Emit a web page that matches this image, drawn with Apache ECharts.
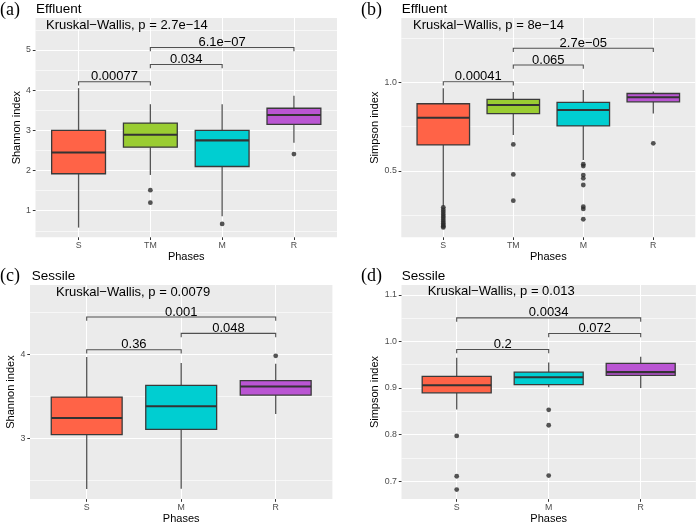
<!DOCTYPE html>
<html><head><meta charset="utf-8">
<script src="https://cdn.jsdelivr.net/npm/echarts@6/dist/echarts.min.js"></script>
<style>html,body{margin:0;padding:0;background:#fff}#c{width:696px;height:525px}</style>
</head><body><div id="c"></div>
<script>
// ---------- DATA ----------
const phasesEffluent = ['S', 'TM', 'M', 'R'];
const phasesSessile = ['S', 'M', 'R'];
const phaseColors = { S: '#FF6347', TM: '#9ACD32', M: '#00CED1', R: '#BA55D3' };

// box stats: [lower whisker, Q1, median, Q3, upper whisker]
const shannonEffluentBoxes = [
  [0.58, 1.92, 2.45, 3.00, 4.05],
  [1.89, 2.58, 2.89, 3.18, 3.65],
  [0.86, 2.10, 2.75, 3.00, 3.65],
  [2.69, 3.15, 3.38, 3.55, 3.86]
];
const shannonEffluentOutliers = [[], [1.51, 1.20], [0.67], [2.41]];
const shannonEffluentBrackets = [[1, 2, 4.21], [2, 3, 4.64], [2, 4, 5.06]];
const shannonEffluentBracketLabels = ['0.00077', '0.034', '6.1e\u221207'];
const shannonEffluentYTicks = [1, 2, 3, 4, 5];

const simpsonEffluentBoxes = [
  [0.300, 0.647, 0.800, 0.879, 0.966],
  [0.703, 0.824, 0.872, 0.904, 0.945],
  [0.562, 0.754, 0.844, 0.887, 0.957],
  [0.824, 0.890, 0.916, 0.937, 0.948]
];
const simpsonEffluentOutliers = [
  [0.295, 0.282, 0.270, 0.258, 0.247, 0.236, 0.225, 0.214, 0.204, 0.195, 0.188, 0.182],
  [0.650, 0.481, 0.333],
  [0.538, 0.528, 0.477, 0.459, 0.421, 0.299, 0.286, 0.228],
  [0.656]
];
const simpsonEffluentBrackets = [[1, 2, 1.0035], [2, 3, 1.0976], [2, 4, 1.192]];
const simpsonEffluentBracketLabels = ['0.00041', '0.065', '2.7e\u221205'];
const simpsonEffluentYTicks = [0.5, 1.0];

const shannonSessileBoxes = [
  [2.400, 3.047, 3.245, 3.495, 3.970],
  [2.405, 3.110, 3.385, 3.635, 3.900],
  [3.292, 3.518, 3.620, 3.690, 3.890]
];
const shannonSessileOutliers = [[], [], [3.985]];
const shannonSessileBrackets = [[1, 2, 4.058], [2, 3, 4.253], [1, 3, 4.448]];
const shannonSessileBracketLabels = ['0.36', '0.048', '0.001'];
const shannonSessileYTicks = [3, 4];

const simpsonSessileBoxes = [
  [0.854, 0.8895, 0.906, 0.925, 0.965],
  [0.9015, 0.907, 0.923, 0.934, 0.9545],
  [0.900, 0.927, 0.934, 0.953, 0.967]
];
const simpsonSessileOutliers = [[0.797, 0.7105, 0.682], [0.853, 0.820, 0.712], []];
const simpsonSessileBrackets = [[1, 2, 0.9825], [2, 3, 1.0168], [1, 3, 1.0505]];
const simpsonSessileBracketLabels = ['0.2', '0.072', '0.0034'];
const simpsonSessileYTicks = [0.7, 0.8, 0.9, 1.0, 1.1];

const kruskalLabels = [
  'Kruskal\u2212Wallis, p = 2.7e\u221214',
  'Kruskal\u2212Wallis, p = 8e\u221214',
  'Kruskal\u2212Wallis, p = 0.0079',
  'Kruskal\u2212Wallis, p = 0.013'
];
const panelTags = ['(a)', '(b)', '(c)', '(d)'];
const panelTitles = ['Effluent', 'Effluent', 'Sessile', 'Sessile'];
const yAxisTitles = ['Shannon index', 'Simpson index', 'Shannon index', 'Simpson index'];
const xAxisTitle = 'Phases';

// ---------- LAYOUT / STYLE ----------
const FONT = 'Liberation Sans, Arial, sans-serif';
const panels = [
  { cats: phasesEffluent, boxes: shannonEffluentBoxes, outliers: shannonEffluentOutliers,
    brackets: shannonEffluentBrackets, bLabels: shannonEffluentBracketLabels, yTicks: shannonEffluentYTicks,
    grid: { left: 35.5, top: 18, width: 301.5, height: 219.3 }, yMin: 0.338, yMax: 5.796, yInt: 1, yDec: 0,
    yNameGap: 11.5, xNameGap: 12,
    tagPos: [0, 1], titlePos: [36, 2.5], kwPos: [46, 19.2] },
  { cats: phasesEffluent, boxes: simpsonEffluentBoxes, outliers: simpsonEffluentOutliers,
    brackets: simpsonEffluentBrackets, bLabels: simpsonEffluentBracketLabels, yTicks: simpsonEffluentYTicks,
    grid: { left: 401.3, top: 18, width: 294, height: 219.3 }, yMin: 0.1263, yMax: 1.3625, yInt: 0.5, yDec: 1,
    yNameGap: 19.2, xNameGap: 12,
    tagPos: [361, 1], titlePos: [401.7, 2.5], kwPos: [413, 19.2] },
  { cats: phasesSessile, boxes: shannonSessileBoxes, outliers: shannonSessileOutliers,
    brackets: shannonSessileBrackets, bLabels: shannonSessileBracketLabels, yTicks: shannonSessileYTicks,
    grid: { left: 30, top: 285, width: 302.4, height: 218.3 }, yMin: 2.281, yMax: 4.828, yInt: 1, yDec: 0,
    yNameGap: 11, xNameGap: 11,
    tagPos: [0, 267], titlePos: [31.7, 269.2], kwPos: [56, 285.8] },
  { cats: phasesSessile, boxes: simpsonSessileBoxes, outliers: simpsonSessileOutliers,
    brackets: simpsonSessileBrackets, bLabels: simpsonSessileBracketLabels, yTicks: simpsonSessileYTicks,
    grid: { left: 401.5, top: 285, width: 294.4, height: 218.3 }, yMin: 0.6615, yMax: 1.121, yInt: 0.1, yDec: 1,
    yNameGap: 19.4, xNameGap: 11,
    tagPos: [361, 267], titlePos: [401.7, 269.2], kwPos: [427.7, 284.8] }
];

const grids = [], xAxes = [], yAxes = [], series = [], titles = [];

function renderBox(params, api) {
  const x = api.value(0);
  const lo = api.coord([x, api.value(1)]);
  const q1 = api.coord([x, api.value(2)]);
  const md = api.coord([x, api.value(3)]);
  const q3 = api.coord([x, api.value(4)]);
  const hi = api.coord([x, api.value(5)]);
  const w = api.size([0.75, 0])[0];
  const cx = lo[0];
  const stroke = '#3a3a3a';
  return { type: 'group', children: [
    { type: 'line', shape: { x1: cx, y1: q3[1], x2: cx, y2: hi[1] }, style: { stroke: '#555', lineWidth: 1.3 } },
    { type: 'line', shape: { x1: cx, y1: lo[1], x2: cx, y2: q1[1] }, style: { stroke: '#555', lineWidth: 1.3 } },
    { type: 'rect', shape: { x: cx - w / 2, y: q3[1], width: w, height: q1[1] - q3[1] },
      style: { fill: api.visual('color'), stroke: stroke, lineWidth: 1.3 } },
    { type: 'line', shape: { x1: cx - w / 2, y1: md[1], x2: cx + w / 2, y2: md[1] }, style: { stroke: '#333', lineWidth: 2.1 } }
  ]};
}

panels.forEach((p, i) => {
  const n = p.cats.length;
  grids.push(Object.assign({ show: true, backgroundColor: '#EBEBEB', borderWidth: 0, containLabel: false }, p.grid));
  const catIdx = p.cats.map((c, k) => k + 1);
  xAxes.push({
    type: 'value', gridIndex: i, min: 0.4, max: n + 0.6, minInterval: 1, maxInterval: 1,
    name: xAxisTitle, nameLocation: 'middle', nameGap: p.xNameGap,
    nameTextStyle: { fontFamily: FONT, fontSize: 11, color: '#000' },
    axisLine: { show: false },
    axisTick: { show: true, length: 2.7, lineStyle: { color: '#333', width: 1 }, customValues: catIdx },
    axisLabel: { customValues: catIdx, margin: 4, fontFamily: FONT, fontSize: 8.8, color: '#4D4D4D',
      formatter: v => p.cats[Math.round(v) - 1] || '' },
    splitLine: { show: true, lineStyle: { color: '#fff', width: 1.1 } },
    minorSplitLine: { show: false }
  });
  yAxes.push({
    type: 'value', gridIndex: i, min: p.yMin, max: p.yMax, minInterval: p.yInt, maxInterval: p.yInt,
    name: yAxisTitles[i], nameLocation: 'middle', nameGap: p.yNameGap,
    nameTextStyle: { fontFamily: FONT, fontSize: 11, color: '#000' },
    axisLine: { show: false },
    axisTick: { show: true, length: 2.7, lineStyle: { color: '#333', width: 1 }, customValues: p.yTicks },
    axisLabel: { customValues: p.yTicks, margin: 4.5, fontFamily: FONT, fontSize: 8.8, color: '#4D4D4D',
      formatter: v => Number(v).toFixed(p.yDec) },
    splitLine: { show: true, lineStyle: { color: '#fff', width: 1.1 } },
    minorTick: { show: false, splitNumber: 2 },
    minorSplitLine: { show: true, lineStyle: { color: '#fff', width: 0.6 } }
  });
  // boxes
  series.push({
    type: 'custom', xAxisIndex: i, yAxisIndex: i, renderItem: renderBox, silent: true, z: 3,
    data: p.boxes.map((b, k) => ({ value: [k + 1].concat(b), itemStyle: { color: phaseColors[p.cats[k]] } }))
  });
  // outliers
  const pts = [];
  p.outliers.forEach((arr, k) => arr.forEach(v => pts.push([k + 1, v])));
  series.push({
    type: 'scatter', xAxisIndex: i, yAxisIndex: i, data: pts, symbolSize: 4.8, z: 4, silent: true,
    itemStyle: { color: '#2b2b2b' }
  });
  // brackets
  series.push({
    type: 'custom', xAxisIndex: i, yAxisIndex: i, silent: true, z: 5, clip: false,
    data: p.brackets,
    renderItem: (params, api) => {
      const a = api.coord([api.value(0), api.value(2)]);
      const b = api.coord([api.value(1), api.value(2)]);
      const tip = 3.8;
      return { type: 'group', children: [
        { type: 'polyline', shape: { points: [[a[0], a[1] + tip], a, b, [b[0], b[1] + tip]] },
          style: { stroke: '#505050', lineWidth: 1.1, fill: null } },
        { type: 'text', x: (a[0] + b[0]) / 2, y: a[1] + 1.5,
          style: { text: p.bLabels[params.dataIndex], fill: '#000', font: '13px ' + FONT,
                   textAlign: 'center', textVerticalAlign: 'bottom' } }
      ]};
    }
  });
  titles.push({ text: panelTags[i], left: p.tagPos[0], top: p.tagPos[1], padding: 0,
    textStyle: { fontFamily: 'Liberation Serif, Times New Roman, serif', fontSize: 18, fontWeight: 'normal', color: '#000' } });
  titles.push({ text: panelTitles[i], left: p.titlePos[0], top: p.titlePos[1], padding: 0,
    textStyle: { fontFamily: FONT, fontSize: 13.5, fontWeight: 'normal', color: '#000' } });
  titles.push({ text: kruskalLabels[i], left: p.kwPos[0], top: p.kwPos[1], padding: 0,
    textStyle: { fontFamily: FONT, fontSize: 13, fontWeight: 'normal', color: '#000' } });
});

const chart = echarts.init(document.getElementById('c'), null, { renderer: 'canvas' });
chart.setOption({
  animation: false, backgroundColor: '#fff',
  title: titles, grid: grids, xAxis: xAxes, yAxis: yAxes, series: series
});
</script></body></html>
